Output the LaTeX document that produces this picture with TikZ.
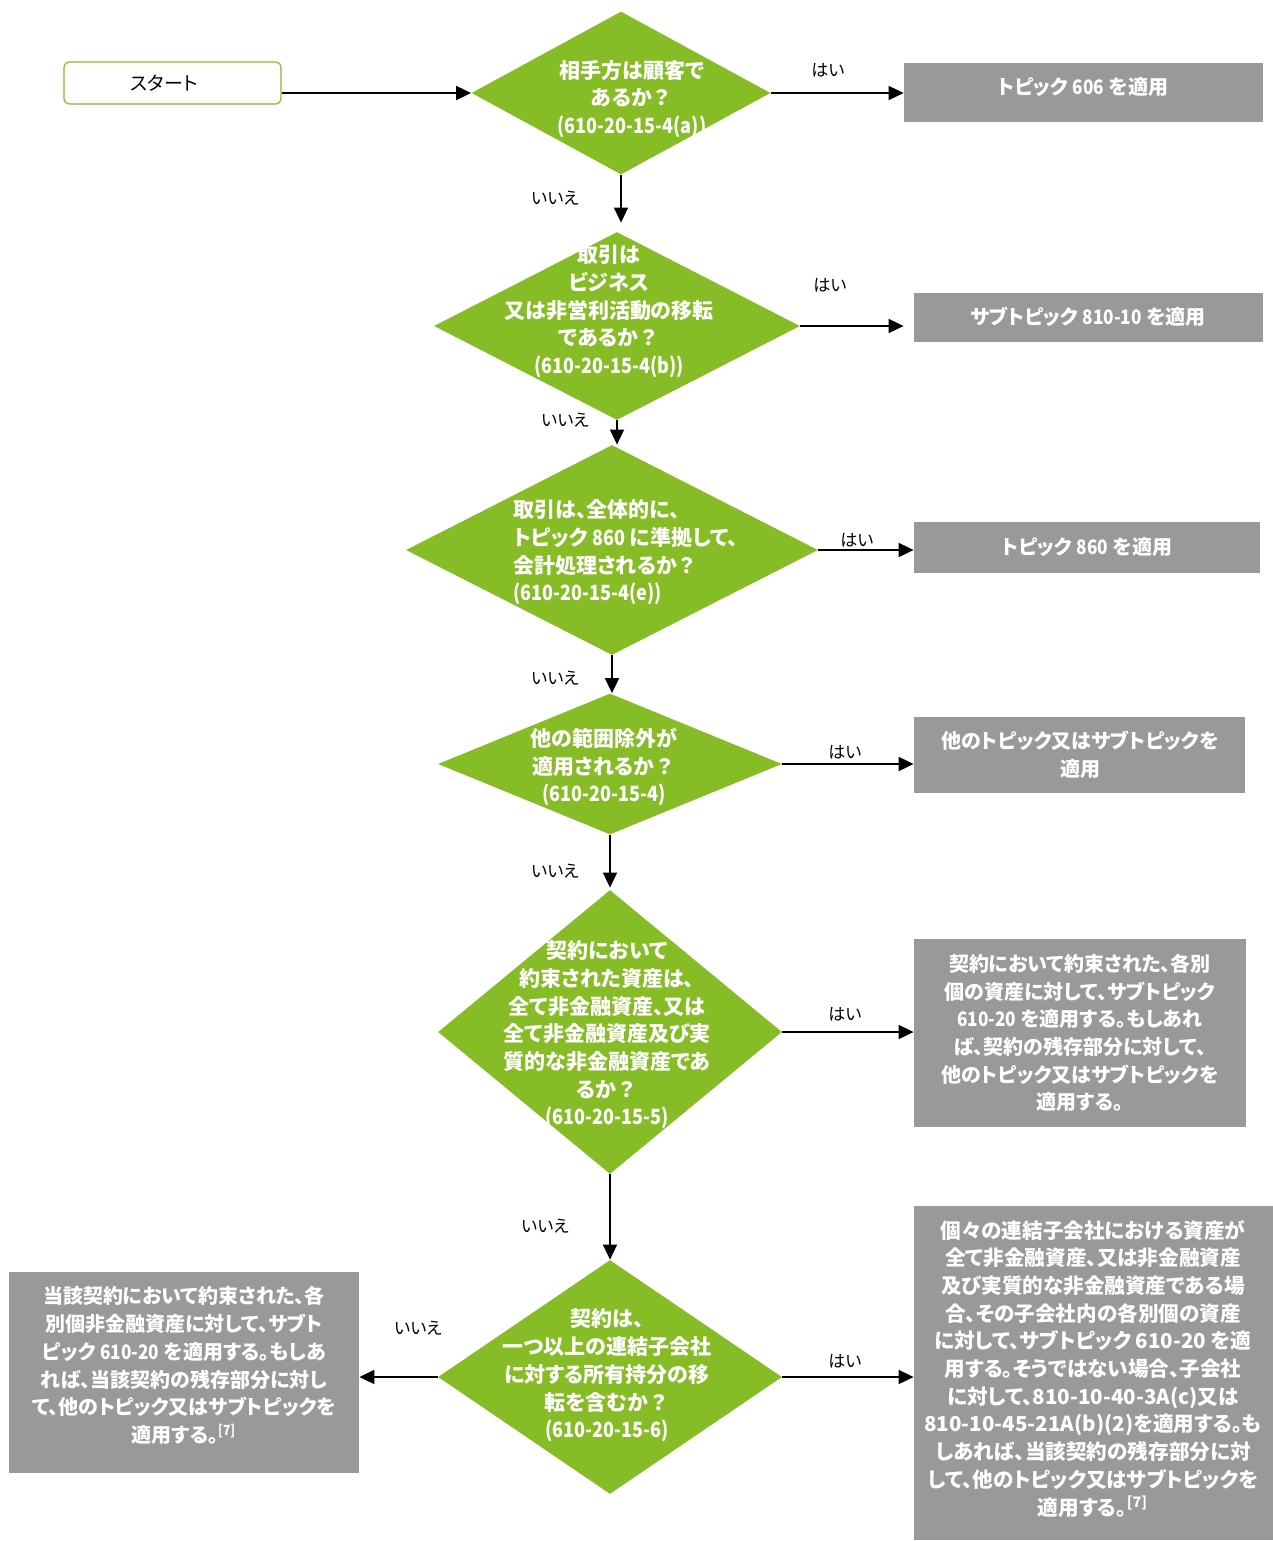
\documentclass[tikz,border=0pt]{standalone}
\usepackage{fontspec}
\setmainfont{Noto Sans CJK JP}[RawFeature=+palt]
\newfontfamily\nar{Noto Sans CJK JP}[FakeStretch=0.86]
\newfontfamily\fw{Noto Sans CJK JP}
\usetikzlibrary{shapes.geometric,arrows.meta}
\definecolor{dgreen}{HTML}{86BC25}
\definecolor{dgrey}{HTML}{97999B}
\newcommand{\qm}{{\fw ？}}
\begin{document}
\begin{tikzpicture}[x=0.5pt,y=-0.5pt,
  dia/.style={diamond, fill=dgreen, draw=none, inner sep=0pt},
  gbox/.style={rectangle, fill=dgrey, draw=none, inner sep=0pt},
  startbox/.style={rectangle, rounded corners=2.5pt, draw=dgreen, line width=0.6pt, fill=white, inner sep=0pt},
  wtxt/.style={text=white, font=\fontsize{10.5}{13.85}\selectfont\bfseries, align=center, inner sep=0pt},
  btxt/.style={text=white, font=\fontsize{10}{13.85}\selectfont\bfseries, align=center, inner sep=0pt},
  lab/.style={text=black, font=\fontsize{8.5}{10}\selectfont, inner sep=0pt},
  arr/.style={draw=black, line width=0.9pt, -{Triangle[length=7.5pt,width=7pt]}},
]
\useasboundingbox (0,0) rectangle (1273,1541);

% start
\node[startbox, minimum width=108.5pt, minimum height=21pt] (start) at (172.5,83) {};
\node[lab, font=\fontsize{9.5}{11}\selectfont] (starttxt) at (164,83) {スタート};

% diamonds
\node[dia, minimum width=149.5pt, minimum height=81.5pt] (d1) at (621,93) {};
\node[dia, minimum width=183pt, minimum height=94pt] (d2) at (617,326) {};
\node[dia, minimum width=206pt, minimum height=105pt] (d3) at (612,550) {};
\node[dia, minimum width=172pt, minimum height=70.5pt] (d4) at (610,764) {};
\node[dia, minimum width=172pt, minimum height=142pt] (d5) at (610,1032) {};
\node[dia, minimum width=172pt, minimum height=117pt] (d6) at (610,1377) {};

\node[wtxt] (t1) at (632,99) {相手方は顧客で\\あるか\qm\\{\nar (610-20-15-4(a))}};
\node[wtxt] (t2) at (609,311.5) {取引は\\ビジネス\\又は非営利活動の移転\\であるか\qm\\{\nar (610-20-15-4(b))}};
\node[wtxt, align=left, anchor=west] (t3) at (513,552.5) {取引は、全体的に、\\トピック {\nar 860} に準拠して、\\会計処理されるか\qm\\{\nar (610-20-15-4(e))}};
\node[wtxt] (t4) at (604,767) {他の範囲除外が\\適用されるか\qm\\{\nar (610-20-15-4)}};
\node[wtxt] (t5) at (607,1035) {契約において\\約束された資産は、\\全て非金融資産、又は\\全て非金融資産及び実\\質的な非金融資産であ\\るか\qm\\{\nar (610-20-15-5)}};
\node[wtxt] (t6) at (607,1375.5) {契約は、\\一つ以上の連結子会社\\に対する所有持分の移\\転を含むか\qm\\{\nar (610-20-15-6)}};

% grey boxes
\node[gbox, minimum width=179.5pt, minimum height=29.5pt] (b1) at (1083.5,92.5) {};
\node[gbox, minimum width=174.5pt, minimum height=24.5pt] (b2) at (1088.5,317.5) {};
\node[gbox, minimum width=173pt, minimum height=25.5pt] (b3) at (1087,547.5) {};
\node[gbox, minimum width=165.5pt, minimum height=38pt] (b4) at (1079.5,755) {};
\node[gbox, minimum width=166pt, minimum height=94pt] (b5) at (1080,1033) {};
\node[gbox, minimum width=175pt, minimum height=100.5pt] (b6) at (184,1372.5) {};
\node[gbox, minimum width=179.5pt, minimum height=167pt] (b7) at (1093.5,1373) {};

\node[btxt] (bt1) at (1083,87) {トピック {\nar 606} を適用};
\node[btxt] (bt2) at (1088,317) {サブトピック {\nar 810-10} を適用};
\node[btxt] (bt3) at (1087,547) {トピック {\nar 860} を適用};
\node[btxt] (bt4) at (1080,755) {他のトピック又はサブトピックを\\適用};
\node[btxt] (bt5) at (1080,1033) {契約において約束された、各別\\個の資産に対して、サブトピック\\{\nar 610-20} を適用する。もしあれ\\ば、契約の残存部分に対して、\\他のトピック又はサブトピックを\\適用する。};
\node[btxt] (bt6) at (184,1365.5) {当該契約において約束された、各\\別個非金融資産に対して、サブト\\ピック {\nar 610-20} を適用する。もしあ\\れば、当該契約の残存部分に対し\\て、他のトピック又はサブトピックを\\適用する。\textsuperscript{\nar [7]}};
\node[btxt, font=\fontsize{10.3}{13.85}\selectfont\bfseries] (bt7) at (1093,1368.5) {個々の連結子会社における資産が\\全て非金融資産、又は非金融資産\\及び実質的な非金融資産である場\\合、その子会社内の各別個の資産\\に対して、サブトピック 610-20 を適\\用する。そうではない場合、子会社\\に対して、810-10-40-3A(c)又は\\810-10-45-21A(b)(2)を適用する。も\\しあれば、当該契約の残存部分に対\\して、他のトピック又はサブトピックを\\適用する。\textsuperscript{[7]}};

% labels
\node[lab] (y1) at (828,70) {はい};
\node[lab] (y2) at (830,285) {はい};
\node[lab] (y3) at (857,540) {はい};
\node[lab] (y4) at (845,752) {はい};
\node[lab] (y5) at (845,1014) {はい};
\node[lab] (y6) at (845,1361) {はい};
\node[lab] (n1) at (555,198) {いいえ};
\node[lab] (n2) at (565,420) {いいえ};
\node[lab] (n3) at (555,678) {いいえ};
\node[lab] (n4) at (555,871) {いいえ};
\node[lab] (n5) at (545,1226) {いいえ};
\node[lab] (n6) at (418,1328) {いいえ};

% connectors
\draw[arr] (start.east |- d1.west) -- (d1.west);
\draw[arr] (d1.east) -- (d1.east -| b1.west);
\draw[arr, shorten >=5pt] (d2.east) -- (d2.east -| b2.west);
\draw[arr] (d3.east) -- (d3.east -| b3.west);
\draw[arr] (d4.east) -- (d4.east -| b4.west);
\draw[arr] (d5.east) -- (d5.east -| b5.west);
\draw[arr] (d6.east) -- (d6.east -| b7.west);
\draw[arr] (d6.west) -- (d6.west -| b6.east);
\draw[arr, shorten >=4.5pt] (d1.south) -- (d1.south |- d2.north);
\draw[arr] (d2.south) -- (d2.south |- d3.north);
\draw[arr] (d3.south) -- (d3.south |- d4.north);
\draw[arr, shorten >=1pt] (d4.south) -- (d4.south |- d5.north);
\draw[arr] (d5.south) -- (d5.south |- d6.north);
\end{tikzpicture}
\end{document}
